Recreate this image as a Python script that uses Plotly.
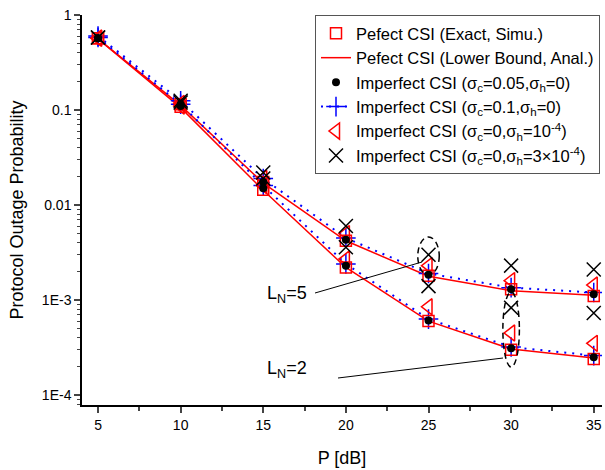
import plotly.graph_objects as go

P = [5, 10, 15, 20, 25, 30, 35]

# L_N = 2 (lower group)
exact_2 = [0.57, 0.108, 0.0145, 0.0022, 0.0006, 0.0003, 0.00024]
bound_2 = [0.56, 0.106, 0.0143, 0.0022, 0.0006, 0.000305, 0.000245]
sc005_2 = [0.57, 0.11, 0.015, 0.0023, 0.00061, 0.00031, 0.00025]
sc01_2 = [0.58, 0.115, 0.016, 0.0024, 0.00063, 0.00032, 0.00026]
sh1_2 = [0.57, 0.11, 0.016, 0.0027, 0.00085, 0.00045, 0.00035]
sh3_2 = [0.58, 0.12, 0.019, 0.0036, 0.0014, 0.00083, 0.00073]

# L_N = 5 (upper group)
exact_5 = [0.57, 0.115, 0.0175, 0.0042, 0.0018, 0.0013, 0.0011]
bound_5 = [0.56, 0.112, 0.017, 0.0042, 0.00178, 0.00125, 0.00112]
sc005_5 = [0.57, 0.115, 0.0175, 0.0043, 0.00185, 0.0013, 0.00115]
sc01_5 = [0.6, 0.125, 0.019, 0.0045, 0.0019, 0.00135, 0.0012]
sh1_5 = [0.57, 0.117, 0.019, 0.005, 0.0023, 0.0016, 0.00144]
sh3_5 = [0.58, 0.125, 0.022, 0.006, 0.0030, 0.0023, 0.0021]

names = [
    "Pefect CSI (Exact, Simu.)",
    "Pefect CSI (Lower Bound, Anal.)",
    "Imperfect CSI (σ<sub>c</sub>=0.05,σ<sub>h</sub>=0)",
    "Imperfect CSI (σ<sub>c</sub>=0.1,σ<sub>h</sub>=0)",
    "Imperfect CSI (σ<sub>c</sub>=0,σ<sub>h</sub>=10<sup>-4</sup>)",
    "Imperfect CSI (σ<sub>c</sub>=0,σ<sub>h</sub>=3×10<sup>-4</sup>)",
]

y_ticks = [1e-4, 1e-3, 1e-2, 1e-1, 1]
y_labels = ["1E-4", "1E-3", "0.01", "0.1", "1"]
x_ticks = [5, 10, 15, 20, 25, 30, 35]

fig = go.Figure()

styles = [
    dict(mode="markers", marker=dict(symbol="square-open", size=11, color="#ff0000", line=dict(width=1.5))),
    dict(mode="lines", line=dict(color="#ff0000", width=1.5)),
    dict(mode="markers", marker=dict(symbol="circle", size=8, color="black")),
    dict(mode="lines+markers", line=dict(color="#0000ff", width=2, dash="2px,6px"),
         marker=dict(symbol="cross-thin-open", size=14, color="#0000ff", line=dict(width=1.5, color="#0000ff"))),
    dict(mode="markers", marker=dict(symbol="triangle-left-open", size=14, color="#ff0000", line=dict(width=1.5))),
    dict(mode="markers", marker=dict(symbol="x-thin-open", size=14, color="black", line=dict(width=1.5, color="black"))),
]
group2 = [exact_2, bound_2, sc005_2, sc01_2, sh1_2, sh3_2]
group5 = [exact_5, bound_5, sc005_5, sc01_5, sh1_5, sh3_5]

order = [1, 3, 0, 4, 5, 2]
traces = {}
for i in range(6):
    for j, grp in enumerate([group2, group5]):
        traces[(i, j)] = go.Scatter(x=P, y=grp[i], name=names[i], legendgroup=str(i),
                                    showlegend=(j == 0), legendrank=i + 1, **styles[i])
for i in order:
    for j in range(2):
        fig.add_trace(traces[(i, j)])

# dashed ellipses
fig.add_shape(type="circle", xref="x", yref="paper", x0=24.35, x1=25.65,
              y0=(405 - 275) / 390, y1=(405 - 237) / 390,
              line=dict(color="black", width=1.5, dash="6px,4px"))
fig.add_shape(type="circle", xref="x", yref="paper", x0=29.5, x1=30.5,
              y0=(405 - 367) / 390, y1=(405 - 292) / 390,
              line=dict(color="black", width=1.5, dash="6px,4px"))

# pointer lines
fig.add_shape(type="line", xref="paper", yref="paper",
              x0=(315 - 82) / 520, y0=(405 - 293) / 390, x1=(422 - 82) / 520, y1=(405 - 262) / 390,
              line=dict(color="black", width=1))
fig.add_shape(type="line", xref="paper", yref="paper",
              x0=(338 - 82) / 520, y0=(405 - 378) / 390, x1=(503 - 82) / 520, y1=(405 - 358) / 390,
              line=dict(color="black", width=1))

fig.add_annotation(xref="paper", yref="paper", x=(287 - 82) / 520, y=(405 - 308) / 390,
                   text="L<sub>N</sub>=5", showarrow=False, font=dict(size=18, color="black"))
fig.add_annotation(xref="paper", yref="paper", x=(287 - 82) / 520, y=(405 - 383) / 390,
                   text="L<sub>N</sub>=2", showarrow=False, font=dict(size=18, color="black"))

fig.update_layout(
    width=605, height=470,
    margin=dict(l=82, r=3, t=15, b=65, autoexpand=False),
    plot_bgcolor="white", paper_bgcolor="white",
    font=dict(family="Liberation Sans, Arial", size=14, color="black"),
    legend=dict(x=(315 - 82) / 520, y=1.0, xanchor="left", yanchor="top",
                bordercolor="#555555", borderwidth=1, bgcolor="white",
                font=dict(size=16.5), tracegroupgap=0, itemwidth=30),
    showlegend=True,
)
fig.update_xaxes(range=[4.03, 35.5], tickvals=x_ticks, ticks="outside", ticklen=6, tickwidth=1.5,
                 showline=True, linecolor="black", linewidth=1.5, showgrid=False, zeroline=False,
                 minor=dict(ticks="outside", ticklen=4, tickwidth=1.5, dtick=2.5, tick0=2.5),
                 title=dict(text="P [dB]", font=dict(size=18), standoff=20))
fig.update_yaxes(type="log", range=[-4.105, 0], tickvals=y_ticks, ticktext=y_labels,
                 ticks="outside", ticklen=6, tickwidth=1.5,
                 showline=True, linecolor="black", linewidth=1.5, showgrid=False, zeroline=False,
                 minor=dict(ticks="outside", ticklen=3, tickwidth=1, dtick="D1"),
                 title=dict(text="Protocol Outage Probability", font=dict(size=18), standoff=14))

fig.write_html("out.html")
